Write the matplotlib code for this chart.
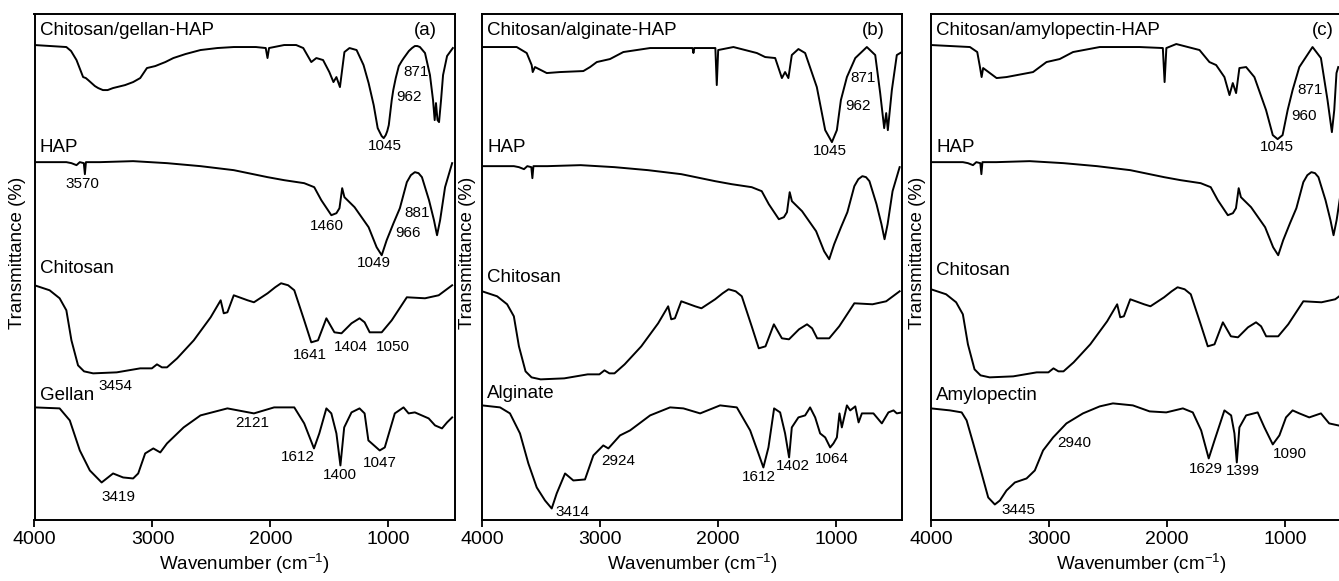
import numpy as np
import matplotlib
matplotlib.use("Agg")
import matplotlib.pyplot as plt

plt.rcParams["font.family"] = ["Liberation Sans", "DejaVu Sans"]
plt.rcParams["mathtext.fontset"] = "custom"
plt.rcParams["mathtext.rm"] = "Liberation Sans"
plt.rcParams["mathtext.default"] = "regular"

# ---- spectra (wavenumber, transmittance in arbitrary stacked units) ----
gellan_hap_wn = [4000, 3730, 3690, 3644, 3588, 3565, 3545, 3488, 3460, 3420, 3380, 3335, 3232, 3164, 3104,
                 3047, 2976, 2934, 2891, 2823, 2720, 2593, 2450, 2311, 2123, 2040, 2025, 2012, 1884, 1782,
                 1722, 1654, 1611, 1554, 1501, 1466, 1441, 1411, 1373, 1330, 1270, 1211, 1168, 1125, 1091,
                 1070, 1057, 1040, 1023, 1010, 997, 972, 959, 938, 912, 887, 870, 827, 800, 776,
                 755, 733, 690, 648, 622, 608, 597, 584, 571, 554, 537, 503, 454]
gellan_hap_t = [474, 472, 468, 459, 442, 441, 439, 433, 431, 429, 429, 431, 434, 437, 441,
                451, 453, 455, 457, 461, 465, 469, 471, 472, 472, 471, 461, 471, 474, 474,
                471, 457, 461, 459, 447, 437, 442, 432, 467, 471, 469, 454, 436, 414, 391,
                386, 383, 381, 384, 388, 394, 419, 429, 441, 453, 458, 461, 468, 471, 473,
                473, 472, 466, 444, 419, 399, 416, 399, 397, 419, 444, 463, 471]

hap_wn = [4000, 3730, 3687, 3644, 3616, 3582, 3573, 3564, 3446, 3164, 2877, 2593, 2311, 2024, 1884,
          1714, 1629, 1569, 1484, 1441, 1415, 1392, 1373, 1287, 1168, 1100, 1057, 1015, 957, 903,
          844, 810, 776, 745, 716, 656, 614, 588, 562, 520, 460]
hap_t = [357, 357, 356, 354, 357, 356, 345, 357, 357, 358, 356, 353, 349, 342, 339,
         336, 332, 319, 304, 306, 311, 331, 322, 312, 292, 272, 264, 279, 296, 311,
         337, 344, 347, 346, 342, 319, 299, 284, 299, 332, 356]

chitosan_wn = [4000, 3872, 3787, 3730, 3687, 3631, 3580, 3503, 3303, 3104, 3005, 2962, 2920, 2877, 2791,
               2650, 2507, 2422, 2396, 2365, 2311, 2194, 2140, 2024, 1960, 1910, 1850, 1798, 1714, 1654,
               1597, 1526, 1458, 1398, 1313, 1245, 1202, 1159, 1057, 972, 844, 690, 574, 460]
chitosan_t = [234, 229, 221, 209, 179, 154, 148, 146, 147, 151, 151, 155, 152, 152, 161,
              179, 202, 219, 206, 207, 224, 219, 217, 226, 232, 236, 234, 229, 199, 177,
              179, 201, 187, 186, 196, 201, 197, 187, 187, 199, 222, 221, 224, 234]

gellan_wn = [4000, 3787, 3701, 3616, 3531, 3431, 3334, 3249, 3164, 3121, 3062, 2993, 2934, 2877, 2736,
             2593, 2365, 2140, 1969, 1798, 1714, 1631, 1586, 1526, 1484, 1441, 1407, 1375, 1313, 1245,
             1202, 1170, 1074, 1031, 946, 872, 829, 776, 659, 605, 546, 503, 460]
gellan_t = [112, 111, 99, 69, 49, 37, 46, 42, 41, 46, 66, 71, 67, 76, 92,
            104, 111, 106, 112, 112, 96, 71, 86, 111, 106, 86, 54, 92, 107, 111,
            106, 79, 69, 72, 106, 112, 106, 107, 101, 94, 91, 97, 102]

alginate_hap_wn = [4000, 3706, 3621, 3579, 3570, 3551, 3451, 3339, 3141, 3084, 3027, 2915, 2802, 2575, 2293,
                   2215, 2208, 2200, 2022, 2010, 1998, 1869, 1670, 1600, 1515, 1458, 1431, 1403, 1374, 1318,
                   1261, 1162, 1091, 1034, 992, 958, 907, 836, 738, 667, 625, 591, 574, 560, 526,
                   484, 441]
alginate_hap_t = [472, 472, 466, 454, 447, 452, 446, 447, 448, 452, 457, 460, 467, 471, 471,
                  471, 466, 471, 471, 434, 469, 472, 466, 462, 461, 441, 447, 441, 464, 470,
                  466, 432, 389, 377, 389, 419, 442, 461, 472, 464, 426, 391, 406, 389, 429,
                  464, 467]

alginate_wn = [4000, 3847, 3763, 3678, 3607, 3536, 3466, 3409, 3367, 3296, 3226, 3127, 3056, 2972, 2929,
               2830, 2745, 2575, 2406, 2293, 2151, 1982, 1840, 1727, 1657, 1615, 1572, 1524, 1473, 1431,
               1397, 1374, 1318, 1261, 1219, 1176, 1134, 1091, 1049, 1021, 992, 970, 950, 907, 879,
               836, 808, 780, 682, 611, 555, 512, 484, 441]
alginate_t = [114, 112, 106, 86, 56, 32, 19, 11, 26, 46, 39, 40, 64, 74, 71,
              84, 89, 104, 112, 111, 106, 114, 112, 89, 66, 52, 72, 111, 107, 86,
              62, 92, 102, 104, 112, 102, 86, 82, 72, 76, 82, 106, 92, 114, 109,
              113, 97, 106, 106, 96, 107, 109, 106, 107]

amylo_hap_wn = [4000, 3670, 3608, 3585, 3571, 3558, 3444, 3360, 3135, 3078, 3021, 2909, 2796, 2570, 2232,
                2035, 2020, 2005, 1921, 1724, 1640, 1583, 1513, 1470, 1442, 1414, 1386, 1329, 1259, 1160,
                1103, 1062, 1020, 977, 935, 878, 766, 695, 639, 602, 582, 563, 548]
amylo_hap_t = [474, 472, 467, 452, 442, 451, 441, 442, 447, 452, 457, 460, 467, 472, 472,
               471, 437, 471, 475, 469, 457, 454, 442, 424, 436, 426, 451, 452, 442, 409,
               384, 380, 384, 409, 429, 452, 472, 461, 419, 387, 409, 446, 452]

amylo_wn = [4000, 3839, 3740, 3698, 3642, 3571, 3515, 3459, 3416, 3360, 3289, 3190, 3120, 3050, 2965,
            2852, 2712, 2570, 2458, 2289, 2147, 2006, 1865, 1781, 1710, 1646, 1597, 1513, 1456, 1428,
            1408, 1386, 1329, 1231, 1174, 1103, 1047, 991, 935, 878, 794, 695, 625, 548]
amylo_t = [111, 109, 107, 99, 76, 46, 22, 15, 19, 29, 37, 41, 49, 69, 82,
           96, 106, 113, 116, 114, 108, 107, 111, 107, 89, 61, 79, 109, 104, 86,
           57, 92, 104, 107, 92, 75, 84, 102, 109, 106, 102, 106, 96, 94]

# curve names and peak labels
names_a = [("Chitosan/gellan-HAP", 489), ("HAP", 372), ("Chitosan", 251), ("Gellan", 124)]
names_b = [("Chitosan/alginate-HAP", 489), ("HAP", 372), ("Chitosan", 242), ("Alginate", 126)]
names_c = [("Chitosan/amylopectin-HAP", 489), ("HAP", 372), ("Chitosan", 249), ("Amylopectin", 124)]

peaks_a = [("871", 872, 447, "left"), ("962", 935, 422, "left"), ("1045", 1029, 373, "center"),
           ("3570", 3593, 335, "center"), ("1460", 1518, 293, "center"), ("881", 864, 306, "left"),
           ("966", 944, 286, "left"), ("1049", 1123, 256, "center"), ("3454", 3318, 133, "center"),
           ("1641", 1669, 164, "center"), ("1404", 1319, 172, "center"), ("1050", 963, 172, "center"),
           ("2121", 2152, 96, "center"), ("1612", 1768, 62, "center"), ("1400", 1413, 44, "center"),
           ("1047", 1072, 56, "center"), ("3419", 3289, 22, "center")]
peaks_b = [("871", 879, 441, "left"), ("962", 922, 413, "left"), ("1045", 1049, 368, "center"),
           ("2924", 2844, 58, "center"), ("1612", 1649, 42, "center"), ("1402", 1365, 53, "center"),
           ("1064", 1035, 60, "center"), ("3414", 3232, 7, "center")]
peaks_c = [("871", 898, 429, "left"), ("960", 949, 403, "left"), ("1045", 1067, 372, "center"),
           ("2940", 2790, 76, "center"), ("1629", 1668, 50, "center"), ("1399", 1358, 48, "center"),
           ("1090", 960, 65, "center"), ("3445", 3261, 9, "center")]

panels = [
    dict(letter="(a)", top=(gellan_hap_wn, gellan_hap_t), bottom=(gellan_wn, gellan_t),
         hap_off=0, chi_off=0, names=names_a, peaks=peaks_a, left=34.5, ylab_x=18),
    dict(letter="(b)", top=(alginate_hap_wn, alginate_hap_t), bottom=(alginate_wn, alginate_t),
         hap_off=-4, chi_off=-6, names=names_b, peaks=peaks_b, left=482, ylab_x=467),
    dict(letter="(c)", top=(amylo_hap_wn, amylo_hap_t), bottom=(amylo_wn, amylo_t),
         hap_off=0, chi_off=-4, names=names_c, peaks=peaks_c, left=931, ylab_x=917),
]

W, H = 1339, 581
fig = plt.figure(figsize=(W / 100, H / 100), dpi=100)

line_kw = dict(color="black", lw=1.4, solid_joinstyle="round")

for p in panels:
    ax = fig.add_axes([p["left"] / W, (H - 519.5) / H, 420 / W, 505.5 / H])
    ax.plot(*p["top"], **line_kw)
    ax.plot(hap_wn, np.array(hap_t) + p["hap_off"], **line_kw)
    ax.plot(chitosan_wn, np.array(chitosan_t) + p["chi_off"], **line_kw)
    ax.plot(*p["bottom"], **line_kw)

    ax.set_xlim(4000, 440)
    ax.set_ylim(0, 505)
    ax.set_xticks([4000, 3000, 2000, 1000])
    ax.set_yticks([])
    ax.tick_params(axis="x", direction="out", length=5, width=1.3, labelsize=14, pad=3)
    for s in ax.spines.values():
        s.set_linewidth(1.4)
    ax.set_xlabel(r"Wavenumber (cm$^{-1}$)", fontsize=13.5, labelpad=3)

    for name, v in p["names"]:
        ax.text(3955, v, name, fontsize=13.5, ha="left", va="center")
    ax.text(590, 489, p["letter"], fontsize=13.5, ha="right", va="center")
    for txt, wn, v, ha in p["peaks"]:
        ax.text(wn, v, txt, fontsize=11, ha=ha, va="center")

    fig.text(p["ylab_x"] / W, (H - 253) / H, "Transmittance (%)", rotation=90,
             fontsize=13.5, ha="center", va="center")

fig.savefig("out.png", dpi=100)
